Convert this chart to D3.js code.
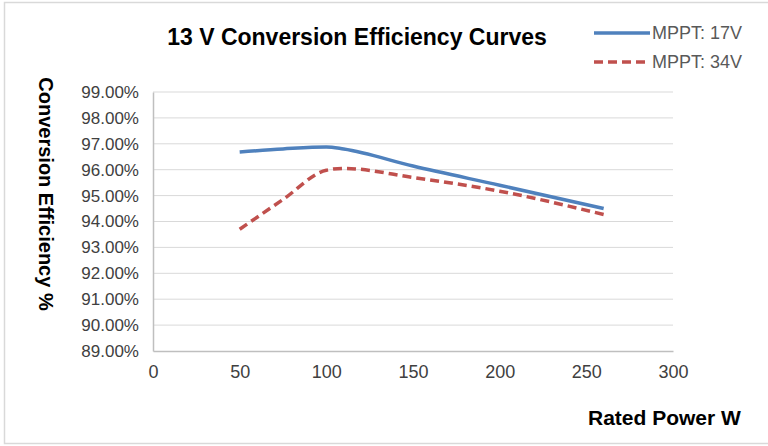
<!DOCTYPE html>
<html><head><meta charset="utf-8">
<script src="https://cdn.jsdelivr.net/npm/d3@7"></script>
<style>body{margin:0;background:#fff}svg{display:block}</style>
</head><body>
<script>
const power = [50, 75, 100, 110, 150, 200, 260];
const mppt17 = [96.68, 96.8, 96.88, 96.8, 96.14, 95.4, 94.5];
const mppt34 = [93.7, 94.85, 95.98, 96.05, 95.7, 95.17, 94.27];
const seriesNames = ["MPPT: 17V", "MPPT: 34V"];
const xTicks = [0, 50, 100, 150, 200, 250, 300];
const yTicks = [89, 90, 91, 92, 93, 94, 95, 96, 97, 98, 99];

const W = 768, H = 446;
const svg = d3.select("body").append("svg").attr("width", W).attr("height", H);
const font = "Liberation Sans, Arial, sans-serif";

svg.append("rect").attr("x", 4.5).attr("y", 2.5).attr("width", 780).attr("height", 441)
  .attr("fill", "none").attr("stroke", "#d9d9d9").attr("stroke-width", 1.5);

const x = d3.scaleLinear().domain([0, 300]).range([153, 673]);
const y = d3.scaleLinear().domain([89, 99]).range([351, 92]);

// gridlines
svg.append("g").selectAll("line").data(yTicks.slice(1)).join("line")
  .attr("x1", x(0)).attr("x2", x(300)).attr("y1", d => y(d)).attr("y2", d => y(d))
  .attr("stroke", "#d9d9d9").attr("stroke-width", 1);

// axes
const yAxis = svg.append("g").attr("transform", `translate(${x(0)},0)`)
  .call(d3.axisLeft(y).tickValues(yTicks).tickSize(0).tickPadding(14).tickFormat(d => d.toFixed(2) + "%"));
const xAxis = svg.append("g").attr("transform", `translate(0,${y(89)})`)
  .call(d3.axisBottom(x).tickValues(xTicks).tickSize(0).tickPadding(14));
[xAxis, yAxis].forEach(a => {
  a.select(".domain").attr("stroke", "#bfbfbf").attr("stroke-width", 1.5);
  a.selectAll("text").attr("font-family", font).attr("fill", "#404040");
});
yAxis.selectAll("text").attr("font-size", 17);
xAxis.selectAll("text").attr("font-size", 18);

const line = d3.line().x(d => x(d[0])).y(d => y(d[1])).curve(d3.curveMonotoneX);
const colors = ["#4f81bd", "#c0504d"];
const dashes = [null, "9,5"];
[mppt17, mppt34].forEach((vals, i) => {
  svg.append("path").datum(power.map((p, j) => [p, vals[j]]))
    .attr("d", line).attr("fill", "none").attr("stroke", colors[i])
    .attr("stroke-width", 3.5).attr("stroke-dasharray", dashes[i]);
});

// legend
seriesNames.forEach((n, i) => {
  const ly = 33 + i * 29;
  svg.append("line").attr("x1", 594).attr("x2", 650).attr("y1", ly).attr("y2", ly)
    .attr("stroke", colors[i]).attr("stroke-width", 3.5).attr("stroke-dasharray", dashes[i]);
  svg.append("text").attr("x", 652).attr("y", ly).attr("dy", "0.35em")
    .attr("font-family", font).attr("font-size", 18).attr("fill", "#595959").text(n);
});

// title
svg.append("text").attr("x", 357).attr("y", 37).attr("dy", "0.35em").attr("text-anchor", "middle")
  .attr("font-family", font).attr("font-size", 23).attr("font-weight", "bold").attr("fill", "#000")
  .text("13 V Conversion Efficiency Curves");

// axis titles
svg.append("text").attr("transform", "translate(46,194) rotate(90)").attr("text-anchor", "middle")
  .attr("dy", "0.35em").attr("font-family", font).attr("font-size", 20).attr("font-weight", "bold")
  .text("Conversion Efficiency %");
svg.append("text").attr("x", 588).attr("y", 418).attr("dy", "0.35em")
  .attr("font-family", font).attr("font-size", 21).attr("font-weight", "bold")
  .text("Rated Power W");
</script>
</body></html>
